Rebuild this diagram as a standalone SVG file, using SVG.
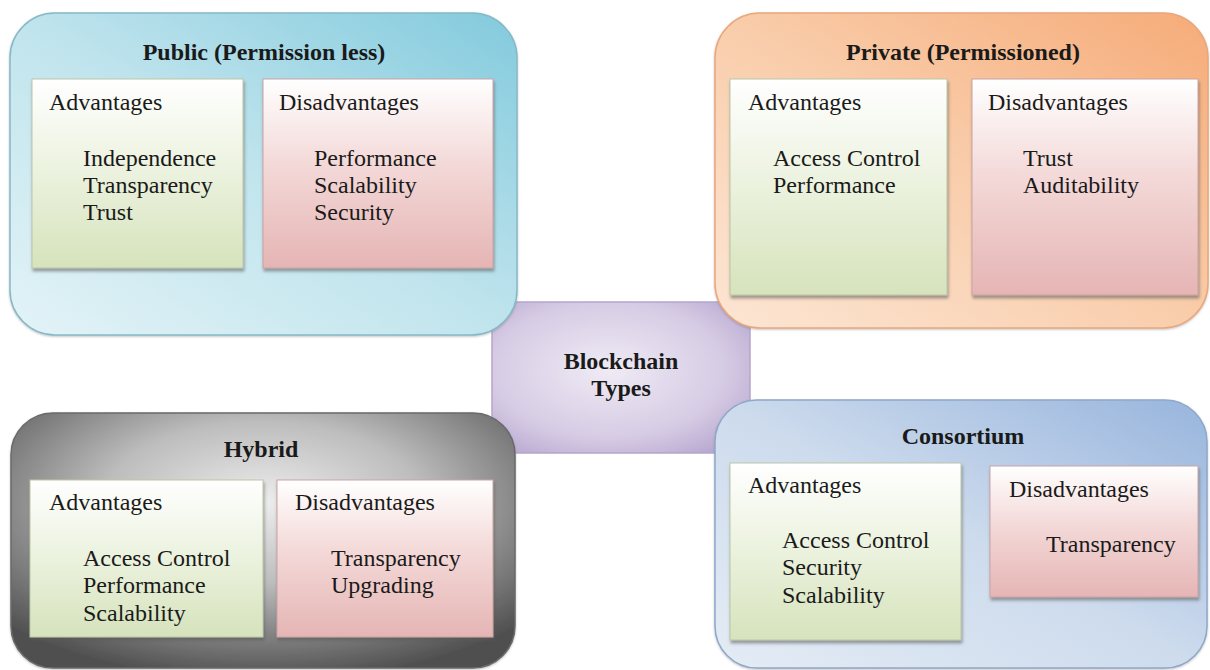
<svg xmlns="http://www.w3.org/2000/svg" width="1210" height="670" viewBox="0 0 1210 670">
  <defs>
    <linearGradient id="gPublic" x1="1" y1="0" x2="0" y2="1">
      <stop offset="0" stop-color="#82cadd"/>
      <stop offset="0.5" stop-color="#c0e4ed"/>
      <stop offset="1" stop-color="#e3f3f7"/>
    </linearGradient>
    <linearGradient id="gPrivate" x1="1" y1="0" x2="0" y2="1">
      <stop offset="0" stop-color="#f6ab78"/>
      <stop offset="0.5" stop-color="#f9cdab"/>
      <stop offset="1" stop-color="#fce6d4"/>
    </linearGradient>
    <radialGradient id="gHybrid" cx="0.5" cy="0.35" r="0.7">
      <stop offset="0" stop-color="#ededed"/>
      <stop offset="0.45" stop-color="#bdbdbd"/>
      <stop offset="1" stop-color="#505050"/>
    </radialGradient>
    <linearGradient id="gCons" x1="1" y1="0" x2="0" y2="1">
      <stop offset="0" stop-color="#98b5dd"/>
      <stop offset="0.5" stop-color="#cddbed"/>
      <stop offset="1" stop-color="#e4ecf5"/>
    </linearGradient>
    <radialGradient id="gCenter" cx="0.45" cy="0.45" r="0.75">
      <stop offset="0" stop-color="#efebf5"/>
      <stop offset="0.6" stop-color="#d6cbe4"/>
      <stop offset="1" stop-color="#ae9dca"/>
    </radialGradient>
    <linearGradient id="gAdv" x1="0" y1="0" x2="0" y2="1">
      <stop offset="0" stop-color="#ffffff"/>
      <stop offset="0.45" stop-color="#edf3e1"/>
      <stop offset="1" stop-color="#d6e3bc"/>
    </linearGradient>
    <linearGradient id="gDis" x1="0" y1="0" x2="0" y2="1">
      <stop offset="0" stop-color="#ffffff"/>
      <stop offset="0.45" stop-color="#f3d9d8"/>
      <stop offset="1" stop-color="#e5b5b4"/>
    </linearGradient>
    <filter id="sh" x="-5%" y="-5%" width="115%" height="115%">
      <feDropShadow dx="1" dy="3" stdDeviation="1.5" flood-color="#555" flood-opacity="0.55"/>
    </filter>
    <filter id="shO" x="-5%" y="-5%" width="110%" height="110%">
      <feDropShadow dx="0" dy="1" stdDeviation="1" flood-color="#666" flood-opacity="0.4"/>
    </filter>
  </defs>
  <style>
    text { font-family: "Liberation Serif", "Times New Roman", serif; fill: #1a1a1a; font-size: 24px; }
    .title { font-weight: bold; text-anchor: middle; }
    .adv { fill: url(#gAdv); stroke: #bcc6a8; stroke-width: 1; filter: url(#sh); }
    .dis { fill: url(#gDis); stroke: #c9a4a3; stroke-width: 1; filter: url(#sh); }
    .outer { stroke-width: 1.5; filter: url(#shO); }
  </style>
  <rect width="1210" height="670" fill="#ffffff"/>

  <g id="connectors"></g>

  <g id="center">
    <rect x="492" y="302" width="258" height="151" rx="3" fill="url(#gCenter)" stroke="#b4a6cb" stroke-width="1.5"/>
    <text class="title" x="621" y="369">Blockchain</text>
    <text class="title" x="621" y="396">Types</text>
  </g>

  <g id="public">
    <rect class="outer" x="10" y="13" width="507" height="322" rx="45" fill="url(#gPublic)" stroke="#86b9c7"/>
    <text class="title" x="264" y="60">Public (Permission less)</text>
    <rect class="adv" x="32" y="79" width="211" height="189"/>
    <text x="49" y="110">Advantages</text>
    <text x="83" y="166">Independence</text>
    <text x="83" y="193">Transparency</text>
    <text x="83" y="220">Trust</text>
    <rect class="dis" x="263" y="79" width="230" height="189"/>
    <text x="279" y="110">Disadvantages</text>
    <text x="314" y="166">Performance</text>
    <text x="314" y="193">Scalability</text>
    <text x="314" y="220">Security</text>
  </g>

  <g id="private">
    <rect class="outer" x="715" y="13" width="493" height="315" rx="45" fill="url(#gPrivate)" stroke="#e9a77c"/>
    <text class="title" x="963" y="60">Private (Permissioned)</text>
    <rect class="adv" x="730" y="79" width="217" height="216"/>
    <text x="748" y="110">Advantages</text>
    <text x="773" y="166">Access Control</text>
    <text x="773" y="193">Performance</text>
    <rect class="dis" x="972" y="79" width="226" height="216"/>
    <text x="988" y="110">Disadvantages</text>
    <text x="1023" y="166">Trust</text>
    <text x="1023" y="193">Auditability</text>
  </g>

  <g id="hybrid">
    <rect class="outer" x="11" y="413" width="504" height="255" rx="42" fill="url(#gHybrid)" stroke="#6a6a6a"/>
    <text class="title" x="261" y="457">Hybrid</text>
    <rect class="adv" x="30" y="480" width="233" height="157"/>
    <text x="49" y="510">Advantages</text>
    <text x="83" y="566">Access Control</text>
    <text x="83" y="593">Performance</text>
    <text x="83" y="621">Scalability</text>
    <rect class="dis" x="277" y="480" width="216" height="157"/>
    <text x="295" y="510">Disadvantages</text>
    <text x="331" y="566">Transparency</text>
    <text x="331" y="593">Upgrading</text>
  </g>

  <g id="consortium">
    <rect class="outer" x="715" y="400" width="492" height="268" rx="42" fill="url(#gCons)" stroke="#8ea8c9"/>
    <text class="title" x="963" y="444">Consortium</text>
    <rect class="adv" x="730" y="463" width="231" height="177"/>
    <text x="748" y="493">Advantages</text>
    <text x="782" y="548">Access Control</text>
    <text x="782" y="575">Security</text>
    <text x="782" y="603">Scalability</text>
    <rect class="dis" x="990" y="466" width="208" height="131"/>
    <text x="1009" y="497">Disadvantages</text>
    <text x="1046" y="552">Transparency</text>
  </g>
</svg>
